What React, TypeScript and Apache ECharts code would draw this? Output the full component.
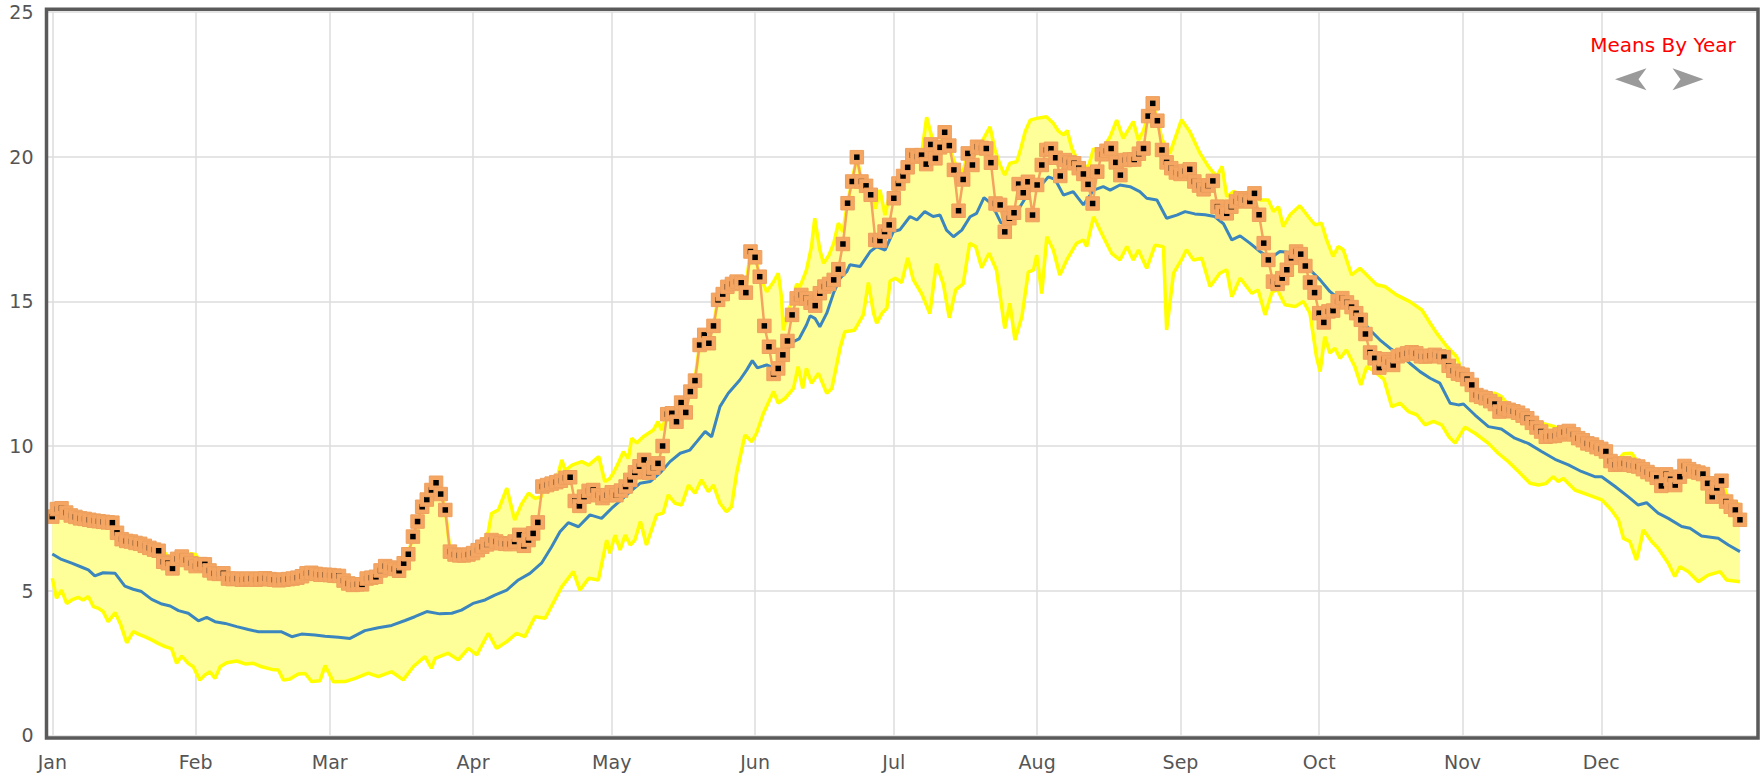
import React, { useEffect, useRef } from 'react';
import * as echarts from 'echarts';

const MONTHS = ['Jan', 'Feb', 'Mar', 'Apr', 'May', 'Jun', 'Jul', 'Aug', 'Sep', 'Oct', 'Nov', 'Dec'];
const MONTH_START_DAYS = [0, 31, 60, 91, 121, 152, 182, 213, 244, 274, 305, 335];
const LEGEND_TITLE = 'Means By Year';

// Current year, one value per day of year (day 0 = Jan 1)
const CURRENT_YEAR = [
  7.56, 7.82, 7.85, 7.7, 7.6, 7.55, 7.5, 7.48, 7.45, 7.42,
  7.4, 7.38, 7.36, 7.35, 7.0, 6.78, 6.72, 6.7, 6.65, 6.62,
  6.55, 6.48, 6.42, 6.38, 6.0, 5.95, 5.77, 6.1, 6.18, 6.06,
  5.95, 5.85, 5.92, 5.91, 5.7, 5.6, 5.58, 5.6, 5.42, 5.4,
  5.42, 5.38, 5.4, 5.42, 5.38, 5.4, 5.43, 5.4, 5.38, 5.36,
  5.38, 5.4, 5.42, 5.45, 5.5, 5.6, 5.62, 5.58, 5.55, 5.55,
  5.54, 5.52, 5.51, 5.35, 5.25, 5.2, 5.22, 5.22, 5.42, 5.45,
  5.48, 5.7, 5.85, 5.8, 5.75, 5.69, 5.95, 6.26, 6.87, 7.39,
  7.9, 8.15, 8.48, 8.73, 8.34, 7.79, 6.35, 6.25, 6.22, 6.22,
  6.25, 6.3, 6.4, 6.52, 6.6, 6.75, 6.7, 6.64, 6.62, 6.61,
  6.7, 6.93, 6.55, 6.75, 6.98, 7.36, 8.6, 8.65, 8.7, 8.75,
  8.8, 8.9, 8.92, 8.1, 7.93, 8.25, 8.45, 8.48, 8.3, 8.2,
  8.3, 8.4, 8.3, 8.46, 8.6, 8.83, 9.09, 9.3, 9.52, 9.08,
  9.25, 9.4, 10.0, 11.1, 11.13, 10.84, 11.5, 11.16, 11.88, 12.26,
  13.49, 13.84, 13.55, 14.15, 15.05, 15.25, 15.5, 15.6, 15.68, 15.64,
  15.3, 16.72, 16.52, 15.85, 14.15, 13.43, 12.49, 12.68, 13.15, 13.63,
  14.53, 15.1, 15.22, 15.1, 14.95, 14.85, 15.28, 15.51, 15.6, 15.74,
  16.11, 16.98, 18.39, 19.14, 19.98, 19.14, 18.99, 18.68, 17.12, 17.1,
  17.41, 17.64, 18.56, 19.07, 19.33, 19.63, 20.05, 20.0, 20.05, 19.74,
  20.42, 19.94, 20.32, 20.84, 20.38, 19.54, 18.13, 19.21, 20.11, 19.71,
  20.34, 20.3, 20.28, 19.79, 18.38, 18.33, 17.4, 17.87, 18.06, 19.05,
  18.75, 19.13, 17.98, 19.02, 19.71, 20.23, 20.27, 19.96, 19.33, 19.88,
  19.8, 19.77, 19.6, 19.4, 19.04, 18.38, 19.48, 20.08, 20.2, 20.28,
  19.8, 19.36, 19.88, 19.9, 19.9, 20.1, 20.28, 21.4, 21.84, 21.24,
  20.23, 19.8, 19.6, 19.45, 19.4, 19.5, 19.56, 19.14, 19.0, 18.87,
  19.0, 19.16, 18.27, 18.1, 18.04, 18.27, 18.45, 18.56, 18.5, 18.45,
  18.73, 17.99, 17.01, 16.43, 15.68, 15.6, 15.8, 16.09, 16.5, 16.72,
  16.63, 16.22, 15.65, 15.3, 14.59, 14.27, 14.65, 14.68, 15.0, 15.11,
  14.96, 14.8, 14.59, 14.36, 13.87, 13.23, 13.03, 12.71, 13.0, 12.9,
  12.8, 13.1, 13.15, 13.2, 13.24, 13.2, 13.1, 13.09, 13.12, 13.15,
  13.1, 13.07, 12.77, 12.6, 12.5, 12.46, 12.31, 12.11, 11.76, 11.7,
  11.65, 11.55, 11.45, 11.19, 11.3, 11.25, 11.2, 11.15, 11.05, 10.96,
  10.8, 10.64, 10.5, 10.32, 10.34, 10.35, 10.4, 10.48, 10.52, 10.4,
  10.27, 10.2, 10.09, 10.05, 9.96, 9.9, 9.81, 9.48, 9.35, 9.38,
  9.4, 9.35, 9.32, 9.29, 9.2, 9.1, 9.02, 8.9, 8.62, 9.02,
  8.85, 8.65, 8.94, 9.31, 9.2, 9.12, 9.08, 9.03, 8.71, 8.25,
  8.55, 8.8, 8.08, 7.9, 7.79, 7.45,
];

// [day of year, value]
const MAX_BY_DAY = [
  [0, 7.6], [1, 7.86], [2, 7.88], [3, 7.72], [4, 7.63], [6, 7.52], [8, 7.47], [10, 7.42], [12, 7.38], [13, 7.37],
  [14, 7.05], [15, 6.85], [17, 6.75], [19, 6.72], [20, 6.78], [21, 6.55], [22, 6.48], [23, 6.42], [24, 6.36], [25, 6.2],
  [26, 6.05], [27, 6.14], [28, 6.22], [29, 6.2], [30, 6.28], [31, 6.25], [32, 6.0], [33, 5.95], [34, 5.75], [35, 5.65],
  [36, 5.62], [37, 5.62], [38, 5.46], [40, 5.45], [42, 5.43], [44, 5.42], [46, 5.45], [48, 5.41], [50, 5.41], [52, 5.45],
  [54, 5.52], [55, 5.62], [56, 5.65], [58, 5.58], [60, 5.56], [62, 5.53], [63, 5.38], [64, 5.28], [65, 5.23], [67, 5.25],
  [68, 5.44], [70, 5.5], [71, 5.72], [72, 5.88], [74, 5.78], [75, 5.72], [76, 5.98], [77, 6.28], [78, 6.9], [79, 7.4],
  [80, 7.92], [81, 8.18], [82, 8.5], [83, 8.75], [84, 8.36], [85, 7.82], [86, 6.4], [88, 6.26], [90, 6.28], [91, 6.33],
  [92, 6.45], [93, 6.6], [94.3, 7.04], [95, 7.67], [96.5, 7.8], [98.3, 8.54], [100, 7.44], [101.5, 8.0], [103, 8.37], [104.4, 8.19],
  [105.8, 8.25], [106.5, 8.65], [108, 8.75], [109, 8.8], [110.2, 9.52], [110.9, 9.16], [112.5, 9.35], [114.5, 9.46], [116, 9.34], [118.2, 9.63],
  [119.5, 8.77], [120.6, 8.88], [121.3, 9.06], [122.4, 9.4], [123.5, 9.8], [124.6, 9.57], [125.3, 10.27], [126.4, 10.1], [127.8, 10.32], [130, 10.55],
  [131, 10.84], [131.8, 10.55], [132.5, 10.9], [133, 11.15], [134, 11.2], [135, 11.2], [136, 11.55], [137, 11.6], [138, 11.92], [139, 12.3],
  [140, 13.52], [141, 13.87], [142, 13.9], [143, 14.2], [144, 15.08], [145, 15.28], [146, 15.53], [147, 15.63], [148, 15.71], [149, 15.67],
  [150, 15.5], [151, 16.75], [152, 16.55], [153, 15.9], [154.5, 15.33], [156, 15.68], [157, 15.97], [157.7, 15.16], [158.1, 14.0], [159, 14.6],
  [160, 15.0], [161, 15.6], [161.7, 15.5], [163.1, 16.08], [164.2, 16.89], [164.9, 17.87], [166, 16.77], [166.8, 16.31], [168, 16.6], [169, 17.0],
  [170, 17.7], [171, 17.4], [172, 18.42], [173, 19.17], [174, 20.01], [175, 19.17], [176, 19.02], [177, 18.71], [178, 18.2], [179, 18.85],
  [180.1, 17.98], [181.2, 18.79], [182, 18.6], [183, 19.1], [184, 19.36], [185, 19.66], [186, 20.08], [187, 20.05], [188, 20.08], [189.1, 21.36],
  [190.2, 20.69], [191, 20.0], [192, 20.35], [193, 20.87], [194, 20.41], [194.9, 19.9], [196, 19.5], [197, 19.5], [198, 20.14], [199, 19.9],
  [200, 20.37], [201, 20.5], [202.8, 21.03], [203.9, 20.23], [205, 19.7], [206, 19.36], [207.1, 19.77], [208.6, 19.82], [209.5, 20.3], [210.4, 20.86],
  [211.5, 21.26], [212.9, 21.32], [215, 21.38], [216.5, 21.15], [217.5, 20.9], [218.7, 20.75], [219.5, 20.9], [220.5, 20.28], [222.3, 19.71], [224.1, 19.65],
  [225.2, 20.28], [226.5, 20.1], [228.8, 20.69], [230.2, 21.26], [231.6, 20.63], [233.8, 21.21], [234.9, 20.57], [236, 20.9], [237, 21.43], [238, 21.87],
  [239, 21.27], [240, 20.6], [241.7, 20.11], [243.2, 20.8], [244.2, 21.27], [246, 20.87], [248.2, 20.12], [250, 19.66], [251.8, 19.31], [253, 19.66],
  [254, 18.62], [255.5, 18.8], [256.9, 18.7], [259, 18.79], [260, 18.76], [261.2, 18.5], [263, 18.5], [264.1, 18.1], [265.2, 18.27], [266.2, 17.58],
  [267.7, 17.99], [269.8, 18.3], [271.6, 17.93], [273.1, 17.64], [274.5, 17.7], [275.6, 17.12], [277, 16.55], [278.1, 16.89], [279.2, 16.78], [281, 15.91],
  [282.8, 16.14], [284.6, 15.86], [286.4, 15.57], [288.2, 15.51], [290.7, 15.22], [293.6, 14.99], [296.2, 14.7], [298, 14.24], [299.4, 13.9], [301.6, 13.44],
  [303.7, 13.09], [305, 12.55], [306, 12.35], [307, 12.15], [308, 11.9], [310, 11.75], [312, 11.82], [313.4, 11.71], [315.2, 11.36], [317.8, 11.19],
  [319.9, 10.96], [322.1, 10.79], [325, 10.67], [326, 10.45], [328, 10.55], [330, 10.3], [332, 10.12], [334, 9.99], [336, 9.84], [337, 9.5],
  [338.5, 9.5], [339.8, 9.73], [341.6, 9.75], [342.6, 9.52], [344, 9.25], [346, 9.05], [347, 8.93], [348, 8.65], [349, 9.05], [350, 8.88],
  [351, 8.68], [352, 8.97], [353, 9.34], [355, 9.15], [357, 9.06], [358, 8.74], [359, 8.4], [360, 8.58], [361, 8.83], [362.5, 8.19],
  [365, 7.96],
];

const MIN_BY_DAY = [
  [0, 5.43], [0.9, 4.74], [2, 5.02], [3.1, 4.56], [4.2, 4.68], [5.6, 4.77], [6.7, 4.68], [7.8, 4.8], [8.9, 4.45], [10, 4.39],
  [11, 4.28], [12.1, 3.93], [13.6, 4.24], [14.7, 3.87], [16.1, 3.2], [17.5, 3.59], [18.6, 3.5], [20, 3.41], [21.5, 3.3], [22.9, 3.18],
  [24.4, 3.07], [25.8, 3.0], [26.9, 2.49], [28, 2.74], [29.4, 2.49], [30.5, 2.37], [31.9, 1.91], [33, 2.09], [34.1, 2.2], [35.2, 1.97],
  [36.3, 2.37], [37.7, 2.51], [39.9, 2.57], [41.7, 2.47], [43.5, 2.49], [45.3, 2.37], [47.5, 2.28], [48.9, 2.26], [50, 1.91], [51.4, 1.95],
  [53.2, 2.12], [54.7, 2.14], [56.1, 1.86], [57.9, 1.89], [59, 2.41], [60.8, 1.85], [63.3, 1.86], [65.5, 1.97], [68.3, 2.15], [70.5, 2.03],
  [73.4, 2.2], [75.9, 1.92], [78.1, 2.38], [80.6, 2.72], [82, 2.32], [82.8, 2.66], [85.6, 2.84], [87.8, 2.61], [90, 3.01], [91.8, 2.78],
  [94.3, 3.53], [96.1, 3.01], [98.3, 3.24], [100.4, 3.53], [102.2, 3.41], [104.4, 4.1], [106.6, 4.05], [110.2, 5.14], [112.7, 5.66], [114.1, 5.02],
  [116, 5.43], [118.1, 5.37], [119.9, 6.75], [120.6, 6.29], [121.7, 6.92], [122.8, 6.41], [123.9, 6.92], [125, 6.58], [126, 6.75], [127.2, 7.39],
  [128.5, 6.58], [130.7, 7.62], [132.1, 7.68], [133.2, 8.31], [134.7, 8.02], [136.1, 7.96], [137.6, 8.65], [139, 8.37], [140.4, 8.83], [141.9, 8.42],
  [143, 8.65], [144.4, 8.02], [145.8, 7.73], [146.9, 7.9], [148, 9.06], [149.8, 10.38], [151.3, 10.15], [152.3, 10.44], [153.8, 11.13], [156, 11.88],
  [157, 11.48], [158.5, 11.65], [160.3, 11.99], [161.3, 12.74], [162.3, 11.99], [163.1, 12.68], [164.2, 12.17], [165.7, 12.51], [167.5, 11.82], [168.6, 11.99],
  [170.4, 13.4], [171.4, 13.95], [173.5, 14.0], [175.4, 14.53], [176.5, 15.65], [177.6, 14.6], [178.3, 14.24], [179.5, 14.6], [180.5, 14.76], [181.2, 15.7],
  [182.3, 15.8], [183.7, 15.65], [185, 16.5], [186.2, 15.75], [188, 15.27], [189.8, 14.58], [191.2, 16.3], [192.7, 15.6], [194, 14.43], [195.4, 15.4],
  [197, 15.6], [198.4, 17.0], [199.7, 16.89], [201, 16.16], [202.6, 16.66], [204.2, 16.08], [206, 14.06], [207.1, 14.93], [208.2, 13.66], [209.7, 14.47],
  [211.1, 16.02], [212.2, 16.08], [212.9, 16.6], [214, 15.27], [215.1, 17.23], [216.5, 16.77], [217.9, 15.91], [219.4, 16.43], [221.5, 17.0], [223, 17.12],
  [223.7, 16.89], [225.2, 17.92], [227.3, 17.23], [229.1, 16.66], [230.9, 16.43], [232.4, 16.89], [233.8, 16.43], [234.9, 16.77], [236.7, 16.14], [238.5, 16.94],
  [240.3, 16.89], [241, 14.01], [242.5, 15.97], [244.2, 16.43], [245.3, 16.78], [246.8, 16.43], [248.6, 16.49], [250.4, 15.51], [252.5, 15.97], [254, 16.09],
  [255.1, 15.16], [256.9, 15.8], [259.4, 15.28], [260.8, 15.39], [262.3, 14.53], [263.7, 15.28], [264.8, 15.45], [266.6, 14.88], [268.8, 14.82], [270.6, 14.99],
  [272, 14.59], [273.4, 13.09], [274.2, 12.57], [275.2, 13.78], [276.3, 13.21], [277.4, 13.38], [278.5, 13.03], [279.9, 13.32], [281.7, 12.75], [283, 12.11],
  [284.3, 12.75], [286.4, 12.52], [288, 12.3], [289.7, 11.36], [291.5, 11.48], [293.3, 11.19], [295.1, 11.08], [296.9, 10.73], [298.7, 10.85], [300.5, 10.73],
  [302, 10.33], [303.4, 10.1], [305.5, 10.65], [307.7, 10.44], [310.6, 10.09], [312.7, 9.75], [314.9, 9.46], [317.1, 9.12], [319.6, 8.71], [321.4, 8.65],
  [323, 8.7], [324.6, 8.94], [325.7, 8.77], [326.8, 8.88], [329.3, 8.48], [332.2, 8.31], [335.1, 8.14], [337.2, 7.79], [338.7, 7.45], [339.8, 6.81],
  [341.2, 6.7], [342.6, 6.06], [343.3, 6.5], [344.1, 7.1], [345.9, 6.7], [347.3, 6.47], [349.5, 5.95], [350.9, 5.49], [352, 5.83], [353.8, 5.66],
  [356, 5.31], [358.1, 5.54], [360.7, 5.66], [362.1, 5.37], [365, 5.31],
];

const MEAN_BY_DAY = [
  [0, 6.27], [2, 6.08], [4.2, 5.95], [6.4, 5.81], [7.8, 5.72], [9.2, 5.51], [11, 5.62], [13.6, 5.6], [15.7, 5.16], [17.5, 5.05],
  [19.3, 4.97], [21.5, 4.7], [23.7, 4.54], [25.5, 4.47], [27.3, 4.31], [29.4, 4.22], [31.6, 3.96], [33.4, 4.08], [35.2, 3.93], [37.4, 3.87],
  [39.9, 3.76], [42.4, 3.66], [44.6, 3.58], [47.5, 3.58], [49.6, 3.58], [51.8, 3.41], [53.9, 3.5], [56.8, 3.47], [59, 3.43], [61.9, 3.39],
  [64.4, 3.35], [67.6, 3.62], [70.5, 3.72], [73.4, 3.8], [76.3, 3.97], [78.4, 4.1], [81, 4.28], [83.8, 4.2], [86.4, 4.22], [88.5, 4.33],
  [91, 4.56], [93.6, 4.68], [95.7, 4.85], [98.3, 5.02], [100.8, 5.37], [103.3, 5.6], [105.8, 5.95], [108, 6.52], [109.8, 7.04], [111.6, 7.35],
  [113.8, 7.21], [116.3, 7.62], [118.8, 7.5], [121, 7.85], [122.8, 8.1], [125, 8.42], [127.1, 8.71], [129.3, 8.77], [131.4, 9.06], [133.6, 9.46],
  [135.8, 9.75], [137.9, 9.86], [139.4, 10.15], [141.2, 10.5], [142.6, 10.32], [144.4, 11.36], [146.2, 11.82], [148.7, 12.28], [150.2, 12.63], [151.4, 12.95],
  [152.5, 12.7], [154.5, 12.8], [155.8, 12.72], [157.4, 13.0], [160.3, 13.61], [161.5, 13.7], [163.1, 14.18], [163.9, 14.5], [165, 14.4], [166, 14.12],
  [167.5, 14.59], [169, 15.3], [170.4, 15.8], [171.8, 16.02], [172.5, 16.26], [174.7, 16.2], [176.9, 16.72], [178.3, 16.89], [180.1, 16.77], [181.9, 17.41],
  [183.3, 17.47], [185.5, 17.93], [187, 17.81], [188.7, 18.1], [190.5, 17.93], [192, 17.98], [193.4, 17.46], [194.9, 17.23], [196.7, 17.46], [198.5, 17.92],
  [199.9, 18.04], [201.5, 18.58], [203.2, 18.36], [205.2, 17.7], [207.1, 17.87], [209.3, 18.27], [211.5, 18.84], [213.6, 18.96], [215.4, 19.3], [216.9, 19.21],
  [218.7, 18.67], [220.8, 18.79], [223, 18.33], [225.2, 18.84], [227.3, 18.96], [228.8, 18.84], [230.9, 19.02], [233.1, 18.96], [235.2, 18.79], [236.7, 18.56],
  [238.9, 18.5], [241, 17.87], [243.2, 17.98], [245, 18.1], [247.1, 18.02], [249.3, 17.99], [251.4, 17.93], [253.3, 17.68], [255.1, 17.12], [256.9, 17.26],
  [259, 17.01], [261.2, 16.72], [263.4, 16.49], [265.5, 16.72], [267.7, 16.69], [269.8, 16.55], [272, 16.09], [274.2, 15.74], [276.3, 15.34], [278.5, 15.05],
  [280.7, 14.93], [282.8, 14.42], [285, 14.01], [287.1, 13.67], [289.3, 13.38], [291.5, 13.15], [293.6, 12.86], [295.8, 12.57], [298, 12.34], [300.1, 12.17],
  [302.3, 11.48], [304.1, 11.42], [305.2, 11.45], [307.7, 11.07], [310.6, 10.67], [313.4, 10.59], [316.3, 10.27], [319.2, 10.09], [322.1, 9.81], [325, 9.54],
  [327.9, 9.35], [330.7, 9.12], [333.6, 8.94], [335.1, 8.94], [338, 8.6], [340.8, 8.25], [343, 7.96], [344.8, 8.04], [347.3, 7.68], [349.5, 7.5],
  [352.4, 7.22], [354.2, 7.16], [356.7, 6.89], [360.3, 6.81], [362.5, 6.58], [365, 6.35],
];

const FONT = '"DejaVu Sans", Verdana, sans-serif';

export default function App() {
  const ref = useRef<HTMLDivElement>(null);

  useEffect(() => {
    if (!ref.current) return;
    const chart = echarts.init(ref.current, null, { renderer: 'svg' });
    const currentData = CURRENT_YEAR.map((v, i) => [i, v]);

    const option: any = {
      animation: false,
      backgroundColor: '#ffffff',
      grid: { left: 46.5, right: 5, top: 11.9, bottom: 42.6, outerBoundsMode: 'none' },
      xAxis: {
        type: 'value',
        min: -1.25,
        max: 368.9,
        axisLine: { show: false },
        axisTick: { show: false, customValues: MONTH_START_DAYS },
        axisLabel: {
          customValues: MONTH_START_DAYS,
          formatter: (v: number) => {
            const idx = MONTH_START_DAYS.indexOf(Math.round(v));
            return idx >= 0 ? MONTHS[idx] : '';
          },
          color: '#555',
          fontSize: 19,
          fontFamily: FONT,
          margin: 17,
        },
        splitLine: { show: true, lineStyle: { color: '#dcdcdc', width: 1.5 } },
      },
      yAxis: {
        type: 'value',
        min: 0,
        max: 25,
        interval: 5,
        axisLine: { show: false },
        axisTick: { show: false },
        axisLabel: { color: '#555', fontSize: 19, fontFamily: FONT, margin: 13 },
        splitLine: { show: true, lineStyle: { color: '#dcdcdc', width: 1.5 } },
      },
      series: [
        {
          type: 'custom',
          name: 'range',
          silent: true,
          z: 1,
          data: [[0, 0]],
          renderItem: (_params: any, api: any) => {
            const pts: number[][] = [];
            for (const p of MAX_BY_DAY) pts.push(api.coord([p[0], p[1]]));
            for (let i = MIN_BY_DAY.length - 1; i >= 0; i--) pts.push(api.coord([MIN_BY_DAY[i][0], MIN_BY_DAY[i][1]]));
            return { type: 'polygon', shape: { points: pts }, style: { fill: '#ffff99' } };
          },
        },
        {
          type: 'line', name: 'max', data: MAX_BY_DAY, symbol: 'none', silent: true, z: 2,
          lineStyle: { color: '#ffff00', width: 3.5 },
        },
        {
          type: 'line', name: 'min', data: MIN_BY_DAY, symbol: 'none', silent: true, z: 2,
          lineStyle: { color: '#ffff00', width: 3.5 },
        },
        {
          type: 'line', name: 'mean', data: MEAN_BY_DAY, symbol: 'none', silent: true, z: 3,
          lineStyle: { color: '#3b86be', width: 3 },
        },
        {
          type: 'line', name: 'current', data: currentData, symbol: 'none', silent: true, z: 4,
          lineStyle: { color: '#f4a460', width: 2.5 },
        },
        {
          type: 'custom',
          name: 'currentMarkers',
          silent: true,
          z: 5,
          progressive: 0,
          data: currentData,
          renderItem: (params: any, api: any) => {
            const p = api.coord([api.value(0), api.value(1)]);
            const i = params.dataIndex;
            return {
              type: 'group',
              children: [
                {
                  type: 'rect',
                  z2: i * 2,
                  shape: { x: p[0] - 6.75, y: p[1] - 6.75, width: 13.5, height: 13.5 },
                  style: { fill: '#f5a663', stroke: '#eea05e', lineWidth: 1 },
                },
                {
                  type: 'rect',
                  z2: i * 2 + 1,
                  shape: { x: p[0] - 2.75, y: p[1] - 2.75, width: 5.5, height: 5.5 },
                  style: { fill: '#000000' },
                },
              ],
            };
          },
        },
      ],
      graphic: [
        {
          type: 'rect',
          z: 100,
          silent: true,
          shape: { x: 46.5, y: 9.3, width: 1711.5, height: 728.7 },
          style: { fill: 'none', stroke: '#5a5a5a', lineWidth: 3.5 },
        },
        {
          type: 'text',
          z: 100,
          x: 1663,
          y: 45,
          style: {
            text: LEGEND_TITLE,
            fill: '#ff0000',
            font: '20px ' + FONT,
            textAlign: 'center',
            textVerticalAlign: 'middle',
            align: 'center',
            verticalAlign: 'middle',
          },
        },
        {
          type: 'polygon',
          z: 100,
          shape: { points: [[1615, 79.3], [1646.5, 68.3], [1638.5, 79.3], [1646.5, 90.3]] },
          style: { fill: '#9a9a9a' },
        },
        {
          type: 'polygon',
          z: 100,
          shape: { points: [[1703.5, 79.3], [1672.5, 68.3], [1680.5, 79.3], [1672.5, 90.3]] },
          style: { fill: '#9a9a9a' },
        },
      ],
    };

    chart.setOption(option);
    return () => chart.dispose();
  }, []);

  return (
    <div
      ref={ref}
      style={{ position: 'fixed', left: 0, top: 0, width: 1763, height: 778, background: '#fff' }}
    />
  );
}
